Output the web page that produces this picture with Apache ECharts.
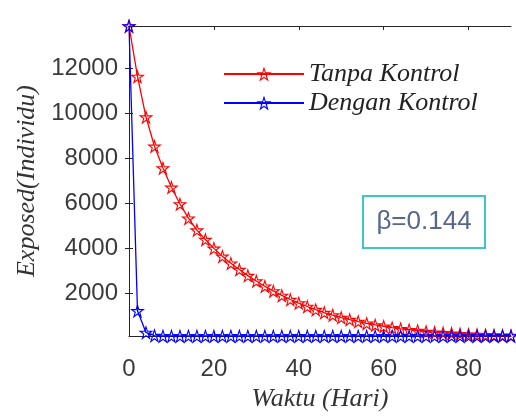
<!DOCTYPE html>
<html>
<head>
<meta charset="utf-8">
<script src="https://cdn.jsdelivr.net/npm/echarts@6/dist/echarts.min.js"></script>
<style>
  html, body { margin: 0; padding: 0; background: #fff; }
  #chart { width: 516px; height: 417px; }
</style>
</head>
<body>
<div id="chart"></div>
<script>
// waktu (hari), satu titik tiap 2 hari
var days = [0, 2, 4, 6, 8, 10, 12, 14, 16, 18, 20, 22, 24, 26, 28, 30, 32, 34, 36, 38,
            40, 42, 44, 46, 48, 50, 52, 54, 56, 58, 60, 62, 64, 66, 68, 70, 72, 74, 76, 78,
            80, 82, 84, 86, 88, 90];

// Exposed tanpa kontrol
var tanpaKontrol = [13860, 11620, 9820, 8520, 7560, 6700, 5960, 5330, 4800, 4380,
                    3990, 3640, 3330, 3050, 2780, 2540, 2310, 2100, 1900, 1720,
                    1560, 1410, 1270, 1140, 1030, 920, 830, 740, 660, 590,
                    530, 470, 420, 380, 340, 300, 270, 240, 220, 200,
                    180, 165, 150, 140, 130, 120];

// Exposed dengan kontrol
var denganKontrol = [13860, 1220, 260, 120, 100, 100, 100, 100, 100, 100,
                     100, 100, 100, 100, 100, 100, 100, 100, 100, 100,
                     100, 100, 100, 100, 100, 100, 100, 100, 100, 100,
                     100, 100, 100, 100, 100, 100, 100, 100, 100, 100,
                     100, 100, 100, 100, 100, 100];

var xTicks = [0, 20, 40, 60, 80];
var yTicks = [2000, 4000, 6000, 8000, 10000, 12000];
var seriesNames = ['Tanpa Kontrol', 'Dengan Kontrol'];

// bintang berlubang (outline), karena isi simbol garis selalu memakai warna garis
var star = 'path://M50 0 L61.23 34.55 L97.55 34.55 L68.16 55.9 L79.39 90.45 L50 69.1 L20.61 90.45 L31.84 55.9 L2.45 34.55 L38.77 34.55 Z ' +
           'M50 22.5 L43.82 41.5 L23.85 41.5 L40.01 53.25 L33.84 72.25 L50 60.51 L66.16 72.25 L59.99 53.25 L76.15 41.5 L56.18 41.5 Z';

function pairs(vals) {
    return days.map(function (d, i) { return [d, vals[i]]; });
}
function plain(v) { return String(v); }

var axisCol = '#262626';
var labelCol = '#3a3a3a';
var serif = '"Liberation Serif", "DejaVu Serif", serif';
var sans = '"Liberation Sans", Arial, sans-serif';

var chart = echarts.init(document.getElementById('chart'));
chart.setOption({
    animation: false,
    grid: { left: 129, right: 5, top: 26, bottom: 80, containLabel: false },
    legend: {
        data: seriesNames,
        orient: 'vertical',
        left: 218,
        top: 56,
        itemWidth: 80,
        itemHeight: 19,
        itemGap: 3,
        textStyle: { fontFamily: serif, fontStyle: 'italic', fontSize: 26, color: '#222' }
    },
    xAxis: [{
        type: 'value',
        min: 0, max: 90,
        name: 'Waktu (Hari)',
        nameLocation: 'middle',
        nameGap: 50,
        nameTextStyle: { fontFamily: serif, fontStyle: 'italic', fontSize: 26, color: '#333' },
        axisLine: { lineStyle: { color: axisCol } },
        axisTick: { inside: true, length: 4, customValues: xTicks, lineStyle: { color: axisCol } },
        axisLabel: { customValues: xTicks, formatter: plain, fontSize: 24, color: labelCol, margin: 21, fontFamily: sans },
        splitLine: { show: false }
    }, {
        type: 'value',
        position: 'top',
        min: 0, max: 90,
        axisLine: { lineStyle: { color: axisCol } },
        axisTick: { inside: true, length: 4, customValues: xTicks, lineStyle: { color: axisCol } },
        axisLabel: { show: false },
        splitLine: { show: false }
    }],
    yAxis: [{
        type: 'value',
        min: 100, max: 13860,
        name: 'Exposed(Individu)',
        nameLocation: 'middle',
        nameGap: 89,
        nameTextStyle: { fontFamily: serif, fontStyle: 'italic', fontSize: 26, color: '#333' },
        axisLine: { show: true, lineStyle: { color: axisCol } },
        axisTick: { show: true, inside: true, length: 4, customValues: yTicks, lineStyle: { color: axisCol } },
        axisLabel: { customValues: yTicks, formatter: plain, fontSize: 24, color: labelCol, margin: 11, fontFamily: sans },
        splitLine: { show: false }
    }, {
        type: 'value',
        position: 'right',
        min: 100, max: 13860,
        axisLine: { show: true, lineStyle: { color: axisCol } },
        axisTick: { show: true, inside: true, length: 4, customValues: yTicks, lineStyle: { color: axisCol } },
        axisLabel: { show: false },
        splitLine: { show: false }
    }],
    series: [{
        name: seriesNames[0],
        type: 'line',
        data: pairs(tanpaKontrol),
        symbol: star,
        symbolSize: 15,
        lineStyle: { color: '#ff0000', width: 1.3 },
        itemStyle: { color: '#ff0000', borderWidth: 0 }
    }, {
        name: seriesNames[1],
        type: 'line',
        data: pairs(denganKontrol),
        symbol: star,
        symbolSize: 15,
        lineStyle: { color: '#0000ff', width: 1.3 },
        itemStyle: { color: '#0000ff', borderWidth: 0 }
    }],
    graphic: [{
        type: 'rect',
        shape: { x: 363, y: 196, width: 122, height: 52 },
        style: { fill: '#fff', stroke: '#3cc8c8', lineWidth: 2 }
    }, {
        type: 'text',
        x: 424, y: 222,
        style: {
            text: 'β=0.144',
            fontSize: 26,
            fontFamily: sans,
            fill: '#56668f',
            align: 'center',
            verticalAlign: 'middle'
        }
    }]
});
</script>
</body>
</html>
